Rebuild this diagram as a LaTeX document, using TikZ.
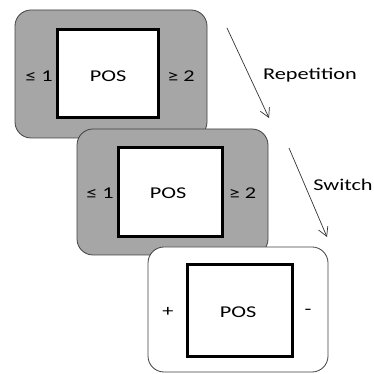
\documentclass[tikz,border=0pt]{standalone}
\usepackage{fontspec}
\setmainfont{Carlito}
\usepackage{tikz}
\usetikzlibrary{positioning, calc, arrows.meta}
\definecolor{PanelGray}{HTML}{A6A6A6}
\definecolor{PanelEdge}{HTML}{404040}

\tikzset{
  panel/.style={draw=PanelEdge, line width=0.8pt, rounded corners=16pt},
  screen/.style={draw=black, fill=white, line width=3pt},
  lbl/.style={font=\fontsize{16.5}{19}\selectfont, xscale=1.35, inner sep=0pt},
  cue/.style={-{Straight Barb[length=9pt, width=10pt]}, draw=black!80, line width=0.7pt}
}

\begin{document}
\begin{tikzpicture}[x=10pt, y=10pt]
  \useasboundingbox (0,0) rectangle (37.3,37.4);

  % Trial 1 (gray)
  \draw[panel, fill=PanelGray] (1.5,23.6) rectangle (20.7,36.4);
  \draw[screen] (5.7,25.6) rectangle (15.8,34.4);
  \node[lbl] (lowA) at (3.9,29.8) {≤ 1};
  \node[lbl] (posA) at (10.8,29.8) {POS};
  \node[lbl] (highA) at (18.1,29.8) {≥ 2};

  % Trial 2 (gray)
  \draw[panel, fill=PanelGray] (7.7,11.9) rectangle (26.8,24.5);
  \draw[screen] (11.8,13.7) rectangle (22.2,22.6);
  \node[lbl] (lowB) at (10.0,18.1) {≤ 1};
  \node[lbl] (posB) at (16.8,18.1) {POS};
  \node[lbl] (highB) at (24.25,18.1) {≥ 2};

  % Trial 3 (white)
  \draw[panel, fill=white] (14.8,0.2) rectangle (32.8,12.7);
  \draw[screen] (18.7,1.7) rectangle (29.2,10.9);
  \node[lbl] (plusC) at (16.8,6.2) {+};
  \node[lbl] (posC) at (23.8,6.2) {POS};
  \node[lbl] (minusC) at (30.8,6.2) {-};

  % Transitions
  \coordinate (repFrom) at (22.7,34.6);
  \coordinate (repTo) at (26.9,25.6);
  \coordinate (swFrom) at (28.9,22.6);
  \coordinate (swTo) at (32.7,13.7);
  \draw[cue] (repFrom) -- (repTo);
  \draw[cue] (swFrom) -- (swTo);
  \node[lbl] (rep) at (31.0,29.9) {Repetition};
  \node[lbl] (sw) at (34.3,18.9) {Switch};
\end{tikzpicture}
\end{document}
